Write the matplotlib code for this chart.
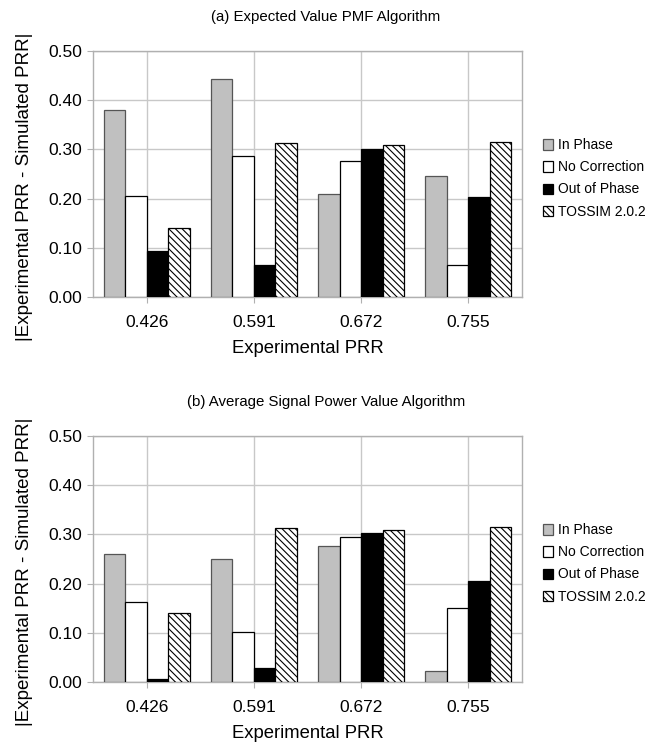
import matplotlib.pyplot as plt
import numpy as np

plt.rcParams['font.family'] = ['Liberation Sans', 'DejaVu Sans']
plt.rcParams['hatch.linewidth'] = 0.8

# Datos
categorias = ['0.426', '0.591', '0.672', '0.755']
series = ['In Phase', 'No Correction', 'Out of Phase', 'TOSSIM 2.0.2']

# (a) Expected Value PMF Algorithm
pmf_in_phase = [0.380, 0.444, 0.210, 0.246]
pmf_no_corr = [0.206, 0.286, 0.276, 0.066]
pmf_out_phase = [0.094, 0.065, 0.300, 0.204]
pmf_tossim = [0.140, 0.312, 0.308, 0.315]

# (b) Average Signal Power Value Algorithm
avg_in_phase = [0.260, 0.250, 0.276, 0.022]
avg_no_corr = [0.163, 0.102, 0.294, 0.151]
avg_out_phase = [0.007, 0.028, 0.303, 0.205]
avg_tossim = [0.141, 0.313, 0.309, 0.316]

colores = ['#c0c0c0', 'white', 'black', 'white']
bordes = ['#555555', 'black', 'black', 'black']
tramas = [None, None, None, '\\\\\\\\\\']

fig = plt.figure(figsize=(6.58, 7.43), dpi=100)
W, H = 658, 743


def dibujar(ax, valores, titulo, ytop):
    x = np.arange(len(categorias))
    ancho = 0.2
    for i, vals in enumerate(valores):
        ax.bar(x - 0.3 + i * ancho, vals, ancho, color=colores[i],
               edgecolor=bordes[i], hatch=tramas[i], linewidth=0.9,
               label=series[i], zorder=3)
    ax.set_xlim(-0.5, 3.5)
    ax.set_ylim(0, 0.5)
    ax.set_yticks(np.arange(0, 0.51, 0.1))
    ax.set_yticklabels(['%.2f' % v for v in np.arange(0, 0.51, 0.1)], fontsize=12.5)
    ax.set_xticks(x)
    ax.set_xticklabels(categorias, fontsize=12.5)
    ax.tick_params(axis='x', length=4, color='#b0b0b0', pad=9)
    ax.tick_params(axis='y', length=4.3, color='#b0b0b0', pad=3.6)
    ax.grid(True, color='#c8c8c8', linewidth=1, zorder=0)
    for s in ax.spines.values():
        s.set_color('#b0b0b0')
        s.set_linewidth(1)
    ax.set_xlabel('Experimental PRR', fontsize=13.3, labelpad=7.5)
    ax.set_ylabel('|Experimental PRR - Simulated PRR|', fontsize=13.5)
    ax.yaxis.set_label_coords(-0.14, 0.447)
    fig.text(326 / W, 1 - (ytop - 34) / H, titulo, fontsize=10.8,
             ha='center', va='center')
    ax.legend(loc='center left', bbox_to_anchor=(1.035, 0.482), frameon=False,
              fontsize=10, handlelength=0.75, handleheight=0.75,
              handletextpad=0.35, labelspacing=0.58, borderaxespad=0)


ax1 = fig.add_axes([93 / W, 1 - 297 / H, 429 / W, 246 / H])
dibujar(ax1, [pmf_in_phase, pmf_no_corr, pmf_out_phase, pmf_tossim],
        '(a) Expected Value PMF Algorithm', 51)

ax2 = fig.add_axes([93 / W, 1 - 682 / H, 429 / W, 246 / H])
dibujar(ax2, [avg_in_phase, avg_no_corr, avg_out_phase, avg_tossim],
        '(b) Average Signal Power Value Algorithm', 436)

fig.savefig('out.png', dpi=100)
